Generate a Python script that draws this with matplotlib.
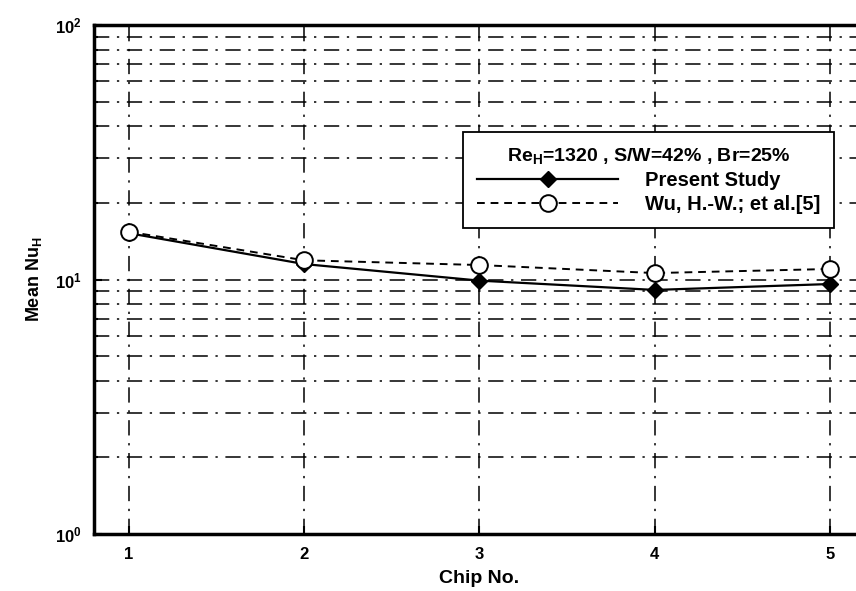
import matplotlib
matplotlib.use('Agg')
import matplotlib.pyplot as plt
from matplotlib.ticker import LogLocator, NullFormatter

matplotlib.rcParams.update({
    'font.family': ['Liberation Sans', 'DejaVu Sans'],
    'font.weight': 'bold',
    'mathtext.fontset': 'custom',
    'mathtext.rm': 'Liberation Sans:bold',
    'mathtext.it': 'Liberation Sans:bold',
    'mathtext.bf': 'Liberation Sans:bold',
})

chips = [1, 2, 3, 4, 5]
present_study = [15.2, 11.5, 9.9, 9.1, 9.6]
wu_et_al = [15.4, 11.9, 11.4, 10.6, 11.0]
x_ticks = [1, 2, 3, 4, 5]
legend_title = r'Re$_{\mathregular{H}}$=1320 , S/W=42% , Br=25%'

fig = plt.figure(figsize=(8.56, 5.91), dpi=100)
ax = fig.add_axes([0.1098, 0.0964, 0.9007, 0.8613])

ax.plot(chips, present_study, '-', color='black', linewidth=1.6,
        marker='D', markersize=8, markerfacecolor='black',
        label='Present Study', zorder=4)
ax.plot(chips, wu_et_al, '--', color='black', linewidth=1.4,
        dashes=(4, 3), marker='o', markersize=12, markerfacecolor='white',
        markeredgewidth=1.4, label='Wu, H.-W.; et al.[5]', zorder=5)

ax.set_yscale('log')
ax.set_ylim(1, 100)
ax.set_xlim(0.8, 5.2)
ax.set_xticks(x_ticks)
ax.yaxis.set_minor_locator(LogLocator(base=10, subs=range(2, 10)))
ax.yaxis.set_minor_formatter(NullFormatter())

grid_kw = dict(color='black', linestyle=(0, (10, 5, 1.5, 5)), linewidth=1.1)
ax.grid(True, which='major', axis='both', **grid_kw)
ax.grid(True, which='minor', axis='y', **grid_kw)

for side in ['left', 'bottom', 'top']:
    ax.spines[side].set_linewidth(2.5)
ax.tick_params(which='both', direction='in', labelsize=12, width=1.5)
ax.tick_params(which='major', length=6, pad=9)
ax.tick_params(which='minor', length=3)
for lbl in ax.get_xticklabels() + ax.get_yticklabels():
    lbl.set_fontweight('bold')

ax.set_xlabel('Chip No.', fontsize=14, fontweight='bold', labelpad=6)
ax.set_ylabel(r'Mean Nu$_{\mathregular{H}}$', fontsize=13, fontweight='bold', labelpad=8)

leg = ax.legend(loc='upper left', bbox_to_anchor=(0.466, 0.81),
                title=legend_title, fontsize=14.5, title_fontsize=14,
                handlelength=7, handletextpad=1.3, fancybox=False,
                framealpha=1, edgecolor='black', borderpad=0.7,
                labelspacing=0.25)
leg.get_frame().set_linewidth(1.3)
for t in leg.get_texts():
    t.set_fontweight('bold')

fig.savefig('out.png', dpi=100)
